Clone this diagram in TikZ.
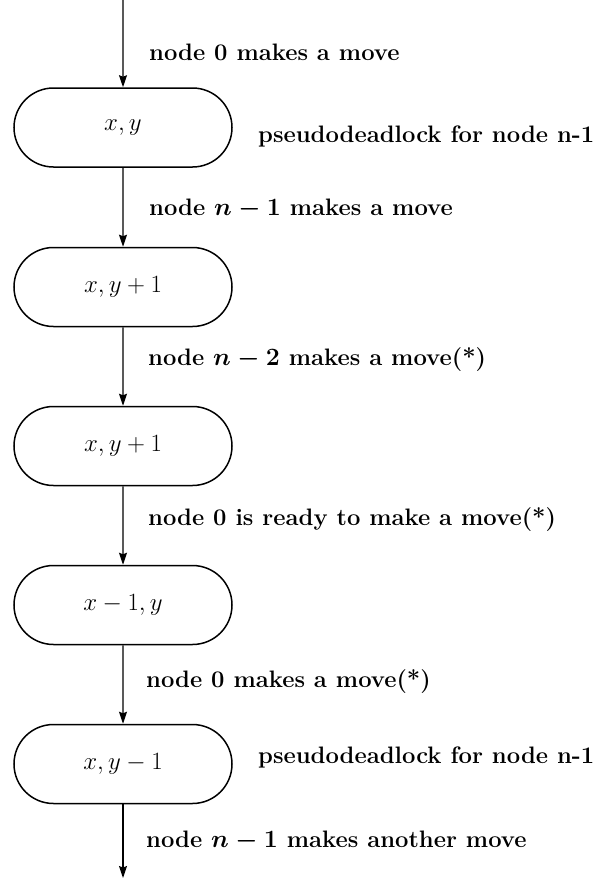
\documentclass[tikz,border=0pt]{standalone}
\usetikzlibrary{shapes.misc,arrows.meta}
\begin{document}
\begin{tikzpicture}[x=1pt,y=-1pt,
  state/.style={rounded rectangle, draw, line width=1.5pt, minimum width=218pt, minimum height=79pt, inner sep=0pt, font=\fontsize{24.5}{28}\selectfont},
  lab/.style={anchor=base west, inner sep=0pt, font=\fontsize{23.8}{28}\selectfont\bfseries\boldmath},
  arr/.style={line width=1.3pt, -{Stealth[length=12pt,width=8pt,inset=1.5pt]}}]
\useasboundingbox (0,0) rectangle (597,878);
\coordinate (top) at (123,0);
\coordinate (bot) at (123,878);
\node[state] (s1) at (123,127.5) {$x,y$};
\node[state] (s2) at (123,287) {$x,y+1$};
\node[state] (s3) at (123,446) {$x,y+1$};
\node[state] (s4) at (123,605) {$x-1,y$};
\node[state] (s5) at (123,764) {$x,y-1$};
\draw[arr] (top) -- (s1);
\draw[arr] (s1) -- (s2);
\draw[arr] (s2) -- (s3);
\draw[arr] (s3) -- (s4);
\draw[arr] (s4) -- (s5);
\draw[arr] (s5) -- (bot);
\node[lab] (l1) at (149,60) {node 0 makes a move};
\node[lab] (p1) at (258,142) {pseudodeadlock for node n-1};
\node[lab] (l2) at (149,215) {node $n-1$ makes a move};
\node[lab] (l3) at (148,365) {node $n-2$ makes a move(*)};
\node[lab] (l4) at (148,525) {node 0 is ready to make a move(*)};
\node[lab] (l5) at (146,687) {node 0 makes a move(*)};
\node[lab] (p2) at (258,763) {pseudodeadlock for node n-1};
\node[lab] (l6) at (146,847) {node $n-1$ makes another move};
\end{tikzpicture}
\end{document}
